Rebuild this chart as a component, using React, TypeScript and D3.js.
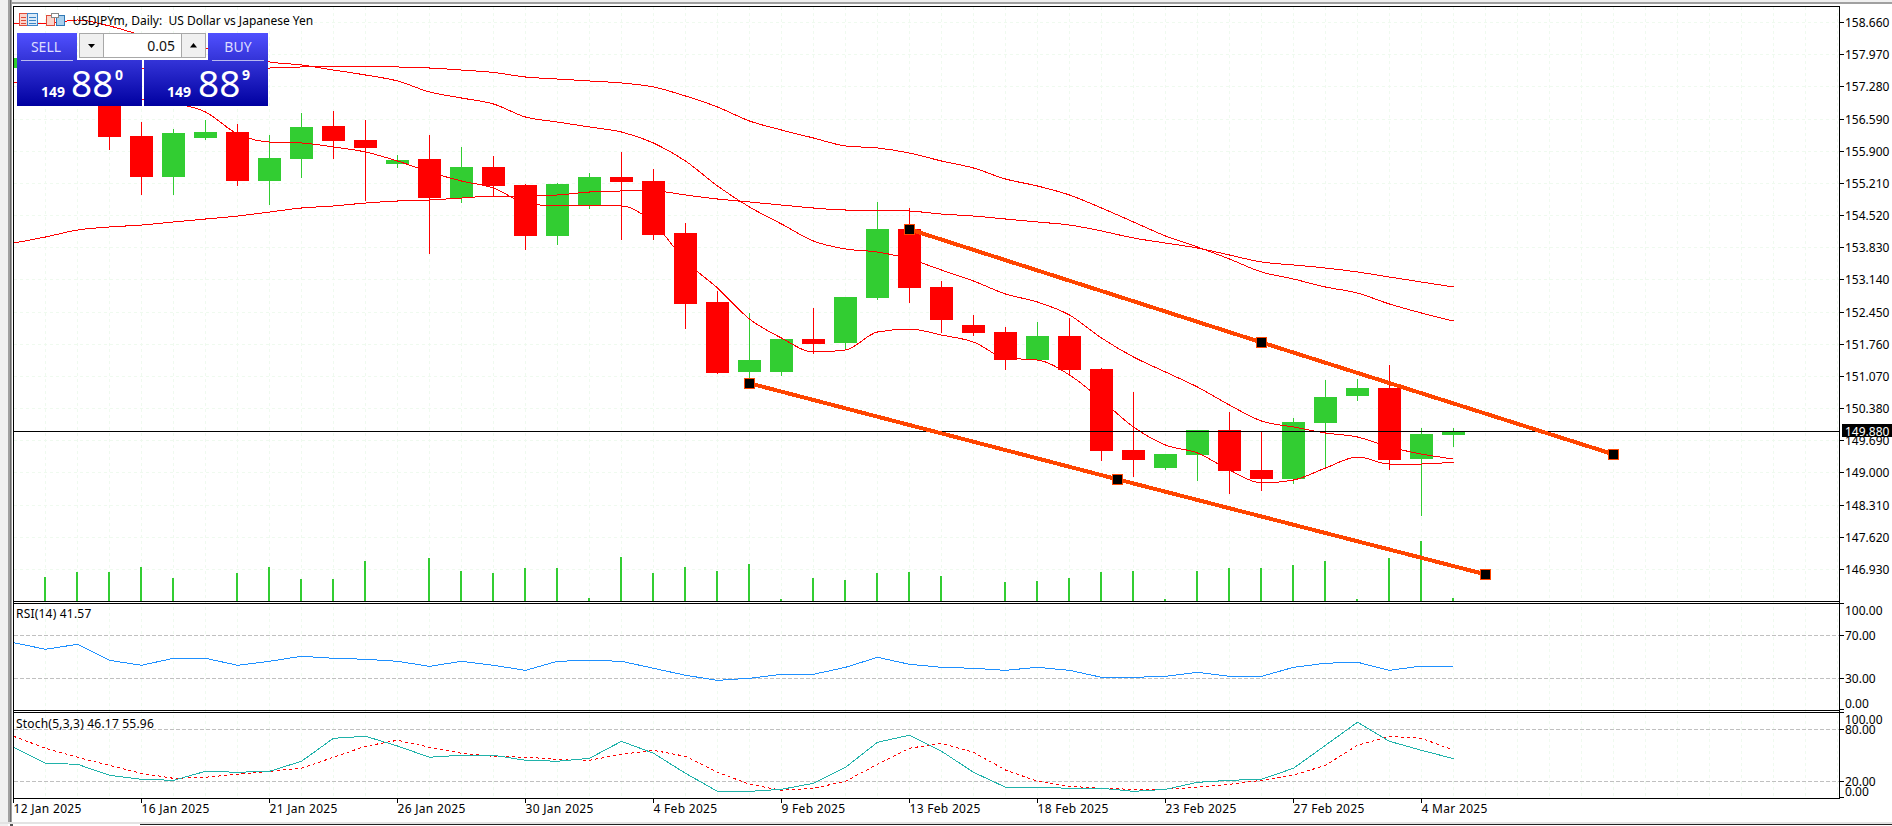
import React from "react";
import * as d3 from "d3";

// Candle series (first entry sits one bar left of the 12 Jan label)
const opens = [157.684,157.856,156.998,157.0,156.226,155.347,156.183,156.312,155.261,155.733,156.440,156.140,155.626,155.733,154.896,155.561,155.175,154.082,154.725,155.347,155.261,154.146,152.666,151.165,151.165,151.873,151.787,152.752,154.232,152.988,152.173,152.023,151.422,151.937,151.229,149.492,149.106,149.385,149.921,149.063,148.870,150.071,150.650,150.822,149.299,149.814];
const highs = [157.963,157.9,157.8,157.105,156.526,156.376,156.569,156.483,156.247,156.719,156.762,156.569,155.819,156.247,155.990,155.797,155.197,155.218,155.433,155.883,155.518,154.360,152.902,152.430,151.873,152.537,152.773,154.811,154.682,153.117,152.387,152.130,152.237,152.323,151.251,150.736,149.406,149.921,150.307,149.900,150.179,150.993,151.015,151.315,149.964,149.964];
const lows = [157.598,157.1,156.9,155.926,154.961,154.961,156.140,155.154,154.746,155.325,155.733,154.832,155.540,153.696,154.789,154.918,153.781,153.889,154.660,153.996,153.996,152.087,151.122,150.929,151.079,151.551,151.637,152.709,152.645,152.001,151.937,151.208,151.422,151.101,149.256,148.913,149.063,148.827,148.549,148.613,148.763,149.106,150.543,149.063,148.077,149.557];
const closes = [157.899,157.255,157.641,156.205,155.347,156.290,156.312,155.261,155.754,156.419,156.119,155.969,155.711,154.896,155.561,155.154,154.082,155.197,155.347,155.240,154.103,152.623,151.144,151.422,151.873,151.765,152.773,154.232,152.966,152.280,152.001,151.422,151.937,151.208,149.471,149.278,149.406,149.921,149.042,148.870,150.093,150.629,150.822,149.278,149.835,149.900];
const volumes = [0,24000,29000,29000,34000,23000,0,28000,34000,22000,22000,40000,0,43000,30000,28000,33000,33000,3000,44000,28000,34000,30000,37000,2000,23000,21000,28000,29000,25000,0,19000,20000,23000,29000,30000,2000,30000,33000,33000,36000,40000,2000,43000,60000,3000];

// Moving-average / band lines
const bandA = [null,157.641,157.663,157.684,157.684,157.684,157.684,157.684,157.684,157.706,157.706,157.706,157.706,157.684,157.641,157.588,157.491,157.448,157.406,157.363,157.277,157.084,156.848,156.548,156.355,156.183,156.012,155.969,155.861,155.690,155.540,155.304,155.154,154.961,154.682,154.382,154.082,153.846,153.588,153.310,153.159,152.988,152.859,152.623,152.430,152.259];
const bandB = [153.931,154.060,154.210,154.275,154.317,154.382,154.446,154.510,154.596,154.682,154.725,154.789,154.832,154.854,154.896,154.939,154.939,154.961,155.025,155.047,155.047,154.961,154.875,154.811,154.746,154.682,154.639,154.639,154.618,154.553,154.510,154.446,154.382,154.317,154.189,154.039,153.931,153.824,153.674,153.524,153.460,153.395,153.310,153.202,153.095,152.988];
const bandC = [158.628,158.628,158.714,158.585,158.392,158.242,158.113,157.963,157.813,157.749,157.641,157.534,157.406,157.170,157.041,156.912,156.633,156.526,156.419,156.312,156.076,155.690,155.154,154.703,154.339,153.974,153.803,153.738,153.588,153.352,153.117,152.838,152.666,152.387,151.894,151.487,151.165,150.843,150.457,150.114,149.986,149.857,149.771,149.557,149.406,149.299];
const bandD = [157.384,157.298,157.170,157.084,157.019,156.934,156.741,156.269,156.097,156.076,155.990,155.883,155.690,155.454,155.261,155.111,154.789,154.725,154.725,154.725,154.360,153.545,152.966,152.302,151.894,151.594,151.637,152.023,152.087,151.958,151.808,151.465,151.422,151.101,150.565,149.986,149.600,149.428,149.063,148.785,148.849,149.106,149.342,149.192,149.192,149.235];

const rsiValues = [63.3,57.2,61.8,46.9,42.3,48.8,48.8,42.3,46.0,50.7,48.8,47.9,46.0,41.3,46.0,42.3,37.6,46.0,46.9,46.0,39.5,33.0,28.3,30.2,33.9,33.9,40.4,49.7,43.2,40.4,39.5,37.6,40.4,37.6,31.1,31.1,32.0,35.8,32.0,32.0,40.4,44.2,45.1,37.6,41.6,41.57];
const stochMain = [59.3,40.8,39.7,27.0,22.4,21.2,31.6,30.5,31.6,43.2,69.7,72.0,60.8,47.8,50.1,50.1,44.3,43.2,46.6,66.2,52.4,29.3,8.5,8.5,10.8,17.8,36.2,65.1,73.2,54.7,30.5,13.2,13.2,12.0,12.0,8.5,10.8,18.9,21.2,22.4,35.1,61.6,88.2,66.2,55.8,46.17];
const stochSignal = [72.0,58.2,47.8,38.5,29.3,23.5,24.7,28.2,31.6,35.1,47.8,60.5,67.4,59.3,52.4,48.9,47.8,45.5,44.3,51.2,55.8,48.9,30.5,16.6,9.7,12.0,20.1,39.7,58.2,63.9,53.5,33.1,20.1,14.3,12.0,10.8,10.8,13.2,16.6,21.2,27.1,38.5,61.6,72.0,69.7,55.96];

// Trend channel anchors: bar position, price
const upperTrend: [number, number][] = [[28,154.225],[39,151.80],[50,149.40]];
const lowerTrend: [number, number][] = [[23,150.923],[34.5,148.864],[46,146.826]];

const priceTicks = [158.66,157.97,157.28,156.59,155.90,155.21,154.52,153.83,153.14,152.45,151.76,151.07,150.38,149.69,149.00,148.31,147.62,146.93];
const timeLabels = ["12 Jan 2025","16 Jan 2025","21 Jan 2025","26 Jan 2025","30 Jan 2025","4 Feb 2025","9 Feb 2025","13 Feb 2025","18 Feb 2025","23 Feb 2025","27 Feb 2025","4 Mar 2025"];
const lastPrice = 149.88;
const titleText = "USDJPYm, Daily:  US Dollar vs Japanese Yen";

const W = 1892, H = 826;
const FONT = "'Noto Sans', sans-serif";
const GREEN = "#32CD32", RED = "#FF0000", ORANGE = "#FF4500";

const xS = d3.scaleLinear().domain([0, 45]).range([13.5, 1453.5]);
const yP = d3.scaleLinear().domain([158.66, 146.93]).range([22.5, 569.5]);
const yV = d3.scaleLinear().domain([0, 60000]).range([601, 541]);
const yR = d3.scaleLinear().domain([100, 0]).range([603.25, 710.75]);
const yS = d3.scaleLinear().domain([100, 0]).range([712, 798.7]);

const lineOf = (y: d3.ScaleLinear<number, number>) =>
  d3.line<number | null>().defined((d) => d !== null).x((_, i) => xS(i)).y((d) => y(d as number));
const bandLine = lineOf(yP).curve(d3.curveMonotoneX);
const trendLine = d3.line<[number, number]>().x((d) => xS(d[0])).y((d) => yP(d[1]));

const Anchor = ({ p }: { p: [number, number] }) => {
  const x = Math.floor(xS(p[0]));
  const y = Math.floor(yP(p[1]));
  return <rect x={x - 4.5} y={y - 4.5} width={10} height={10} fill="#000" stroke={ORANGE} strokeWidth={1} shapeRendering="crispEdges" />;
};

const TickLabel = ({ y, t, fill = "#000" }: { y: number; t: string; fill?: string }) => (
  <text x={1845} y={y} fontSize={12} fontFamily={FONT} fill={fill}>{t}</text>
);

export default function App() {
  const gridX = d3.range(0, 58);
  const tickK = timeLabels.map((_, i) => i * 4);
  const spec = { shapeRendering: "crispEdges" as const, fill: "none" };
  return (
    <svg width={W} height={H} viewBox={`0 0 ${W} ${H}`} style={{ position: "fixed", left: 0, top: 0, background: "#fff" }}>
      <defs>
        <clipPath id="mainClip"><rect x={14} y={7} width={1825} height={594} /></clipPath>
        <linearGradient id="gUp" x1="0" y1="0" x2="0" y2="1">
          <stop offset="0" stopColor="#5050FF" />
          <stop offset="1" stopColor="#3434D8" />
        </linearGradient>
        <linearGradient id="gDown" x1="0" y1="0" x2="0" y2="1">
          <stop offset="0" stopColor="#3434D8" />
          <stop offset="1" stopColor="#0000A0" />
        </linearGradient>
      </defs>

      {/* window chrome */}
      <rect x={0} y={0} width={W} height={2} fill="#F0F0F0" />
      <rect x={0} y={2} width={W} height={2} fill="#A0A0A0" />
      <rect x={0} y={0} width={8} height={H} fill="#F0F0F0" />
      <rect x={8} y={0} width={2} height={823} fill="#A0A0A0" />
      <rect x={10} y={0} width={1} height={823} fill="#696969" />
      <rect x={11} y={0} width={1} height={823} fill="#A0A0A0" />
      <rect x={0} y={822} width={W} height={2} fill="#E3E3E3" />
      <rect x={140} y={824} width={W - 140} height={1} fill="#222" />
      <rect x={10} y={824} width={3} height={2} fill="#555" />

      {/* grid */}
      {gridX.map((k) => (
        <line key={k} x1={Math.floor(xS(k)) + 0.5} x2={Math.floor(xS(k)) + 0.5} y1={7} y2={798} stroke="#EFFAEF" strokeDasharray="3 3" shapeRendering="crispEdges" />
      ))}
      {priceTicks.map((p) => (
        <line key={p} x1={14} x2={1839} y1={Math.floor(yP(p)) + 0.5} y2={Math.floor(yP(p)) + 0.5} stroke="#EFFAEF" strokeDasharray="3 3" shapeRendering="crispEdges" />
      ))}

      {/* volumes */}
      {volumes.map((v, k) => v > 0 && (
        <rect key={k} x={xS(k) - 1.5} y={Math.round(yV(v))} width={2} height={Math.round(yV(0) - yV(v))} fill={GREEN} shapeRendering="crispEdges" />
      ))}

      {/* candles */}
      <g clipPath="url(#mainClip)">
        {opens.map((o, k) => {
          const c = closes[k];
          const col = c >= o ? GREEN : RED;
          const top = Math.round(yP(Math.max(o, c)));
          const bot = Math.round(yP(Math.min(o, c)));
          const hi = Math.round(yP(highs[k]));
          const lo = Math.round(yP(lows[k]));
          return (
            <g key={k} shapeRendering="crispEdges">
              <rect x={xS(k) - 0.5} y={hi} width={1} height={lo - hi} fill={col} />
              <rect x={xS(k) - 11.5} y={top} width={23} height={bot - top} fill={col} />
            </g>
          );
        })}
        {[bandA, bandB, bandC, bandD].map((b, i) => (
          <path key={i} d={bandLine(b) || ""} stroke={RED} strokeWidth={1} {...spec} />
        ))}
      </g>

      {/* last price line */}
      <rect x={14} y={Math.floor(yP(lastPrice))} width={1825} height={1} fill="#000" />

      {/* trend channel */}
      {[upperTrend, lowerTrend].map((t, i) => (
        <g key={i}>
          <path d={trendLine(t) || ""} stroke={ORANGE} strokeWidth={4} {...spec} />
          {t.map((p, j) => <Anchor key={j} p={p} />)}
        </g>
      ))}

      {/* RSI */}
      {[70, 30].map((l) => (
        <line key={l} x1={14} x2={1839} y1={Math.floor(yR(l)) + 0.5} y2={Math.floor(yR(l)) + 0.5} stroke="#C0C0C0" strokeDasharray="4 2" shapeRendering="crispEdges" />
      ))}
      <path d={lineOf(yR)(rsiValues) || ""} stroke="#1E90FF" strokeWidth={1} {...spec} />

      {/* Stochastic */}
      {[80, 20].map((l) => (
        <line key={l} x1={14} x2={1839} y1={Math.floor(yS(l)) + 0.5} y2={Math.floor(yS(l)) + 0.5} stroke="#C0C0C0" strokeDasharray="4 2" shapeRendering="crispEdges" />
      ))}
      <path d={lineOf(yS)(stochSignal) || ""} stroke={RED} strokeWidth={1} strokeDasharray="3 3" {...spec} />
      <path d={lineOf(yS)(stochMain) || ""} stroke="#20B2AA" strokeWidth={1} {...spec} />

      {/* frames */}
      <g fill="#000" shapeRendering="crispEdges">
        <rect x={13} y={6} width={1} height={793} />
        <rect x={1839} y={6} width={1} height={793} />
        <rect x={13} y={6} width={1827} height={1} />
        <rect x={13} y={601} width={1827} height={1} />
        <rect x={13} y={603} width={1827} height={1} />
        <rect x={13} y={710} width={1827} height={1} />
        <rect x={13} y={712} width={1827} height={1} />
        <rect x={13} y={798} width={1827} height={1} />
        {priceTicks.map((p) => <rect key={p} x={1840} y={Math.floor(yP(p))} width={4} height={1} />)}
        {[100, 70, 30, 0].map((l) => <rect key={l} x={1840} y={Math.min(709, Math.floor(yR(l)))} width={4} height={1} />)}
        {[100, 80, 20, 0].map((l) => <rect key={l} x={1840} y={Math.min(797, Math.floor(yS(l)))} width={4} height={1} />)}
        {tickK.map((k) => <rect key={k} x={Math.floor(xS(k))} y={799} width={1} height={4} />)}
      </g>

      {/* axis labels */}
      {priceTicks.map((p) => <TickLabel key={p} y={yP(p) + 4.5} t={p.toFixed(3)} />)}
      <rect x={1842} y={424} width={50} height={13} fill="#000" />
      <TickLabel y={436} t={lastPrice.toFixed(3)} fill="#fff" />
      <TickLabel y={615} t="100.00" />
      <TickLabel y={yR(70) + 4.5} t="70.00" />
      <TickLabel y={yR(30) + 4.5} t="30.00" />
      <TickLabel y={707.5} t="0.00" />
      <TickLabel y={724} t="100.00" />
      <TickLabel y={yS(80) + 4.5} t="80.00" />
      <TickLabel y={yS(20) + 4.5} t="20.00" />
      <TickLabel y={795.5} t="0.00" />
      {timeLabels.map((t, i) => (
        <text key={t} x={xS(i * 4)} y={813} fontSize={12} letterSpacing={0.3} fontFamily={FONT} fill="#000">{t}</text>
      ))}

      {/* indicator captions */}
      <text x={16} y={618} fontSize={12} letterSpacing={0.2} fontFamily={FONT} fill="#000">RSI(14) 41.57</text>
      <text x={16} y={727.5} fontSize={12} letterSpacing={0.2} fontFamily={FONT} fill="#000">Stoch(5,3,3) 46.17 55.96</text>

      {/* title + icons */}
      <g shapeRendering="crispEdges">
        <rect x={19.5} y={13.5} width={8} height={12} fill="#FBD5CC" stroke="#E04B3A" />
        <rect x={27.5} y={13.5} width={10} height={12} fill="#DCEBF8" stroke="#3D85C6" />
        <path d="M21 17.5H26M21 20.5H26M21 23.5H26" stroke="#E04B3A" />
        <path d="M29 17.5H36M29 20.5H36M29 23.5H36" stroke="#3D85C6" />
        <rect x={46.5} y={15.5} width={8} height={10} fill="#FBD5CC" stroke="#E04B3A" />
        <rect x={56.5} y={15.5} width={8} height={10} fill="#A9D0EE" stroke="#2F78B5" />
        <rect x={51.5} y={13.5} width={7} height={4} fill="#fff" stroke="#888" />
      </g>
      <text x={72.5} y={25} fontSize={12} fontFamily={FONT} fill="#000" style={{ whiteSpace: "pre" }}>{titleText}</text>

      {/* one-click trading panel */}
      <g shapeRendering="crispEdges">
        <rect x={17} y={33} width={60} height={27} fill="url(#gUp)" />
        <rect x={208} y={33} width={60} height={27} fill="url(#gUp)" />
        <rect x={17} y={60} width={125} height={46} fill="url(#gDown)" />
        <rect x={144} y={60} width={124} height={46} fill="url(#gDown)" />
        <rect x={21} y={60} width={52} height={1} fill="#B8B8F0" />
        <rect x={212} y={60} width={52} height={1} fill="#B8B8F0" />
        <rect x={79.5} y={33.5} width={126} height={24} fill="#fff" stroke="#A8A8A8" />
        <rect x={80} y={34} width={23} height={23} fill="#F0F0F0" />
        <rect x={182} y={34} width={23} height={23} fill="#F0F0F0" />
        <rect x={103} y={34} width={1} height={23} fill="#A8A8A8" />
        <rect x={181} y={34} width={1} height={23} fill="#A8A8A8" />
      </g>
      <path d="M88 44H95L91.5 48Z" fill="#000" />
      <path d="M190 47.5H197L193.5 43Z" fill="#000" />
      <text x={175} y={51} textAnchor="end" fontSize={14} fontFamily={FONT} fill="#111">0.05</text>
      <text x={46} y={52} textAnchor="middle" fontSize={14} fontFamily={FONT} fill="#DCDCFF">SELL</text>
      <text x={238} y={52} textAnchor="middle" fontSize={14} fontFamily={FONT} fill="#DCDCFF">BUY</text>
      <text x={41} y={97} fontSize={14} fontWeight={700} fontFamily={FONT} fill="#fff">149</text>
      <text x={71} y={97} fontSize={37} fontFamily={FONT} fill="#fff">88</text>
      <text x={115} y={80} fontSize={14} fontWeight={700} fontFamily={FONT} fill="#fff">0</text>
      <text x={167} y={97} fontSize={14} fontWeight={700} fontFamily={FONT} fill="#fff">149</text>
      <text x={198} y={97} fontSize={37} fontFamily={FONT} fill="#fff">88</text>
      <text x={242} y={80} fontSize={14} fontWeight={700} fontFamily={FONT} fill="#fff">9</text>
    </svg>
  );
}
